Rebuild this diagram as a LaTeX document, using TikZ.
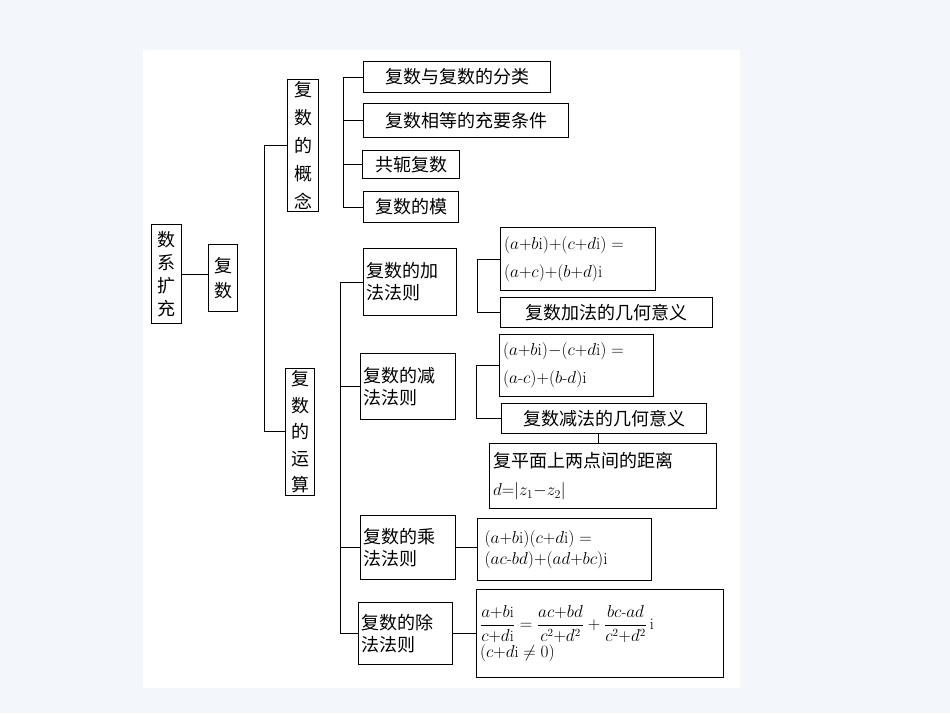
\documentclass[tikz,border=0pt]{standalone}
\usepackage{fontspec}
\newfontfamily\cjk{Noto Sans CJK SC}
\newcommand{\hy}{\mbox{-}}
\begin{document}
\begin{tikzpicture}[x=1pt,y=-1pt,
  box/.style={draw,line width=1.1pt,anchor=north west,inner sep=2pt,font=\cjk\fontsize{18}{22}\selectfont},
  vbox/.style={box,align=center,font=\cjk\fontsize{18}{24}\selectfont},
  mbox/.style={box,align=left,font=\fontsize{17}{28}\selectfont},
  conn/.style={line width=1.1pt}]
\fill[fill={rgb,255:red,243;green,246;blue,250}] (0,0) rectangle (950,713);
\fill[white] (143,50) rectangle (740,688);
\useasboundingbox (0,0) rectangle (950,713);
% level 0,1
\node[vbox,minimum width=30,minimum height=99,font=\cjk\fontsize{18}{23}\selectfont] (root) at (151,224) {数\\系\\扩\\充};
\node[vbox,minimum width=29,minimum height=67,font=\cjk\fontsize{18}{25}\selectfont] (fs) at (208,244) {复\\数};
\node[vbox,minimum width=31,minimum height=123,font=\cjk\fontsize{18}{28}\selectfont] (gn) at (287,79) {复\\数\\的\\概\\念};
\node[vbox,minimum width=29,minimum height=120,font=\cjk\fontsize{18}{26.5}\selectfont] (ys) at (285,368) {复\\数\\的\\运\\算};
% concept children
\node[box,minimum width=187,minimum height=31] (c1) at (363,61) {复数与复数的分类};
\node[box,minimum width=205,minimum height=34] (c2) at (363,103) {复数相等的充要条件};
\node[box,minimum width=97,minimum height=28] (c3) at (362,150) {共轭复数};
\node[box,minimum width=95,minimum height=31] (c4) at (363,191) {复数的模};
% operations
\node[box,align=left,minimum width=93,minimum height=67,text width=88] (add) at (363,248) {复数的加\\法法则};
\node[box,align=left,minimum width=95,minimum height=66,text width=90] (sub) at (360,353) {复数的减\\法法则};
\node[box,align=left,minimum width=95,minimum height=64,text width=90] (mul) at (360,515) {复数的乘\\法法则};
\node[box,align=left,minimum width=94,minimum height=62,text width=89] (div) at (358,602) {复数的除\\法法则};
% add children
\node[mbox,minimum width=155,minimum height=63,text width=148] (af) at (500,227) {$(a{+}b\mathrm{i}){+}(c{+}d\mathrm{i})=$\\$(a{+}c){+}(b{+}d)\mathrm{i}$};
\node[box,minimum width=212,minimum height=30] (ag) at (500,297) {复数加法的几何意义};
% sub children
\node[mbox,minimum width=154,minimum height=62,text width=147] (sf) at (499,334) {$(a{+}b\mathrm{i}){-}(c{+}d\mathrm{i})=$\\$(a\hy c){+}(b\hy d)\mathrm{i}$};
\node[box,minimum width=205,minimum height=30] (sg) at (501,403) {复数减法的几何意义};
\node[box,align=left,minimum width=227,minimum height=65,text width=220,font=\cjk\fontsize{18}{28}\selectfont] (dist) at (489,443) {复平面上两点间的距离\\{\fontspec{Latin Modern Roman}$d{=}|z_1{-}z_2|$}};
% mul
\node[mbox,minimum width=174,minimum height=62,text width=160,font=\fontsize{17}{21}\selectfont] (mf) at (477,518) {$(a{+}b\mathrm{i})(c{+}d\mathrm{i})=$\\$(ac\hy bd){+}(ad{+}bc)\mathrm{i}$};
% div
\node[mbox,minimum width=247,minimum height=88,text width=240,font=\fontsize{16}{30}\selectfont] (df) at (476,589) {$\displaystyle\frac{a{+}b\mathrm{i}}{c{+}d\mathrm{i}}=\frac{ac{+}bd}{c^2{+}d^2}+\frac{bc\hy ad}{c^2{+}d^2}\,\mathrm{i}$\\[-2pt]$(c{+}d\mathrm{i}\neq0)$};
% connectors
\draw[conn] (root.east) -- (fs.west |- root.east);
\draw[conn] (gn.west) -| ([xshift=26]fs.east);
\draw[conn] (ys.west) -| ([xshift=26]fs.east);
\foreach \c in {c1,c2,c3,c4}
  \draw[conn] (\c.west) -| ([xshift=24]gn.east);
\foreach \c in {add,sub,mul,div}
  \draw[conn] (\c.west) -| ([xshift=25]ys.east);
\foreach \c in {af,ag}
  \draw[conn] (\c.west) -| ([xshift=20]add.east);
\foreach \c in {sf,sg}
  \draw[conn] (\c.west) -| ([xshift=20]sub.east);
\draw[conn] ([xshift=-6]sg.south) -- ([xshift=-6]sg.south |- dist.north);
\draw[conn] (mul.east) -- (mf.west |- mul.east);
\draw[conn] (div.east) -- (df.west |- div.east);
\end{tikzpicture}
\end{document}
